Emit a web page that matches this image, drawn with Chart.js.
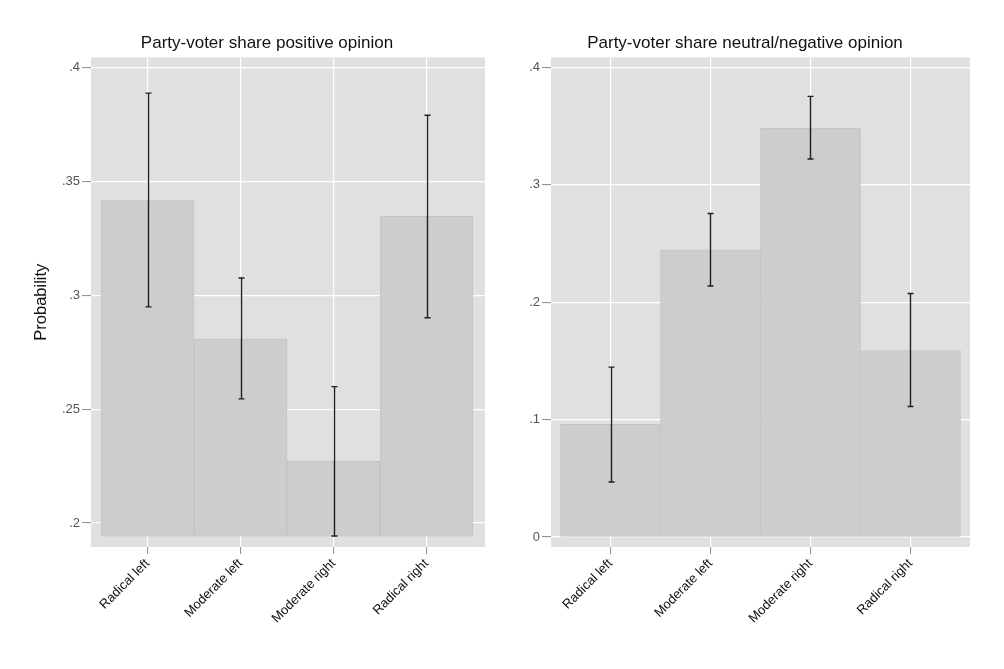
<!DOCTYPE html>
<html>
<head>
<meta charset="utf-8">
<title>Party-voter share</title>
<script src="https://cdn.jsdelivr.net/npm/chart.js@4.4.1/dist/chart.umd.min.js"></script>
<style>
  html, body { margin: 0; padding: 0; background: #fff; }
  #wrap { position: relative; width: 1004px; height: 669px; overflow: hidden; }
  canvas { position: absolute; top: 0; }
  #chartPos { left: 0; }
  #chartNeg { left: 486px; }
</style>
</head>
<body>
<div id="wrap">
  <canvas id="chartPos" width="534" height="669"></canvas>
  <canvas id="chartNeg" width="518" height="669"></canvas>
</div>
<script>
/* =============================================
   DATA
   ============================================= */
const categories = ['Radical left', 'Moderate left', 'Moderate right', 'Radical right'];

// positive opinion
const posShare = [0.3416, 0.2809, 0.2271, 0.3346];
const posLow   = [0.2949, 0.2545, 0.1943, 0.2901];
const posHigh  = [0.3887, 0.3076, 0.2599, 0.3790];
const posBase  = 0.1943;
const posTicks = [0.2, 0.25, 0.3, 0.35, 0.4];
const posTickLabels = ['.2', '.25', '.3', '.35', '.4'];
const posRange = [0.1895, 0.4044];

// neutral/negative opinion
const negShare = [0.0959, 0.2443, 0.3484, 0.1589];
const negLow   = [0.0468, 0.2138, 0.3220, 0.1112];
const negHigh  = [0.1447, 0.2755, 0.3753, 0.2074];
const negBase  = 0;
const negTicks = [0, 0.1, 0.2, 0.3, 0.4];
const negTickLabels = ['0', '.1', '.2', '.3', '.4'];
const negRange = [-0.0085, 0.4085];

const catIdx = [0, 1, 2, 3];

Chart.defaults.font.family = '"Liberation Sans", Arial, Helvetica, sans-serif';
Chart.defaults.animation = false;

/* =============================================
   PLUGINS
   ============================================= */
const plotBg = {
  id: 'plotBg',
  beforeDraw(chart) {
    const { ctx, chartArea: a } = chart;
    ctx.save();
    ctx.fillStyle = '#e0e0e0';
    ctx.fillRect(a.left, a.top, a.right - a.left, a.bottom - a.top);
    ctx.restore();
  }
};

/* CI whiskers, drawn through the chart's own scales */
function makeErrorBars(low, high) {
  return {
    id: 'errorBars',
    afterDatasetsDraw(chart) {
      const { ctx, scales: { x, y } } = chart;
      ctx.save();
      ctx.strokeStyle = '#1e1e1e';
      ctx.lineWidth = 1.4;
      low.forEach((lo, i) => {
        const px = Math.round(x.getPixelForValue(i)) + 0.5;
        const y1 = y.getPixelForValue(lo);
        const y2 = y.getPixelForValue(high[i]);
        ctx.beginPath();
        ctx.moveTo(px, y1); ctx.lineTo(px, y2);
        ctx.moveTo(px - 3, y1); ctx.lineTo(px + 3, y1);
        ctx.moveTo(px - 3, y2); ctx.lineTo(px + 3, y2);
        ctx.stroke();
      });
      ctx.restore();
    }
  };
}

/* =============================================
   CHART BUILDER
   ============================================= */
function makeChart(id, o) {
  const ctx = document.getElementById(id).getContext('2d');
  return new Chart(ctx, {
    type: 'bar',
    data: {
      datasets: [{
        data: catIdx.map(i => ({ x: i, y: [o.base, o.share[i]] })),
        backgroundColor: '#cdcdcd',
        borderColor: '#c3c3c3',
        borderWidth: 1,
        borderSkipped: false,
        barPercentage: 1,
        categoryPercentage: 1
      }]
    },
    options: {
      responsive: false,
      devicePixelRatio: 1,
      layout: { padding: { left: 0, right: 0, top: 0, bottom: 12 } },
      plugins: {
        legend: { display: false },
        tooltip: { enabled: false },
        title: {
          display: true,
          text: o.title,
          color: '#111',
          font: { size: 17, weight: 'normal' },
          padding: { top: 33, bottom: 4 }
        }
      },
      scales: {
        x: {
          type: 'linear',
          min: o.xRange[0],
          max: o.xRange[1],
          offset: false,
          afterBuildTicks: s => { s.ticks = catIdx.map(v => ({ value: v })); },
          afterFit: s => { s.height = 110; },
          ticks: {
            autoSkip: false,
            minRotation: 45,
            maxRotation: 45,
            padding: 2,
            color: '#111',
            font: { size: 13 },
            callback: v => categories[v]
          },
          grid: { offset: false, color: '#ffffff', lineWidth: 1.2, tickColor: '#8a8a8a', tickLength: 7, tickWidth: 1 },
          border: { display: false }
        },
        y: {
          min: o.yRange[0],
          max: o.yRange[1],
          afterBuildTicks: s => { s.ticks = o.ticks.map(v => ({ value: v })); },
          afterFit: s => { s.width = o.yWidth; },
          ticks: {
            padding: 2,
            color: '#555',
            font: { size: 13 },
            callback: v => o.tickLabels[o.ticks.indexOf(v)]
          },
          grid: { color: '#ffffff', lineWidth: 1.2, tickColor: '#8a8a8a', tickLength: 9, tickWidth: 1 },
          border: { display: false },
          title: {
            display: !!o.yTitle,
            text: o.yTitle,
            color: '#111',
            font: { size: 16.5 },
            padding: { top: 32, bottom: 0 }
          }
        },
        // empty right-hand margin so the title centres on the whole graph
        gap: {
          type: 'linear',
          position: 'right',
          afterFit: s => { s.width = o.rightGap; },
          ticks: { display: false },
          grid: { display: false },
          border: { display: false }
        }
      }
    },
    plugins: [plotBg, makeErrorBars(o.low, o.high)]
  });
}

makeChart('chartPos', {
  title: 'Party-voter share positive opinion',
  yTitle: 'Probability',
  share: posShare, low: posLow, high: posHigh, base: posBase,
  ticks: posTicks, tickLabels: posTickLabels, yRange: posRange,
  xRange: [-0.608, 3.629], yWidth: 91, rightGap: 49
});

makeChart('chartNeg', {
  title: 'Party-voter share neutral/negative opinion',
  yTitle: '',
  share: negShare, low: negLow, high: negHigh, base: negBase,
  ticks: negTicks, tickLabels: negTickLabels, yRange: negRange,
  xRange: [-0.595, 3.595], yWidth: 65, rightGap: 34
});
</script>
</body>
</html>
